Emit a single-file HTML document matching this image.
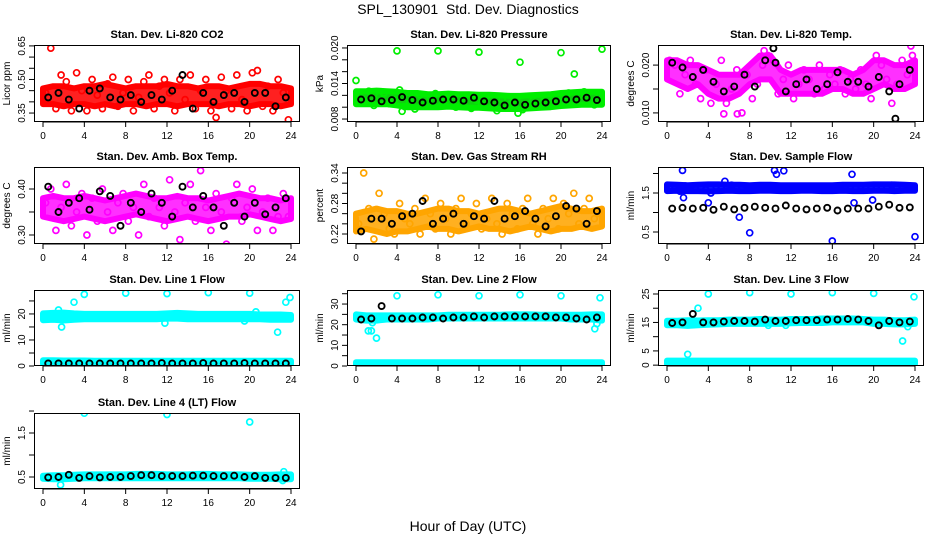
<!DOCTYPE html>
<html><head><meta charset="utf-8"><style>
html,body{margin:0;padding:0;background:#fff;}
svg{display:block;font-family:"Liberation Sans",Arial,sans-serif;}
.pt{font-weight:bold;font-size:11px;}
.tk{font-size:10px;}
</style></head><body>
<svg id="chart" width="936" height="540" viewBox="0 0 936 540" xmlns="http://www.w3.org/2000/svg">
<rect width="936" height="540" fill="#fff"/>
<text x="468" y="14" text-anchor="middle" font-size="14">SPL_130901&#160; Std. Dev. Diagnostics</text>
<text x="468" y="531" text-anchor="middle" font-size="14">Hour of Day (UTC)</text>
</svg>
<script>
const hours=[0,4,8,12,16,20,24];
// CO2
const co2Lo=[0.39,0.39,0.38,0.39,0.39,0.38,0.39,0.38,0.39,0.39,0.38,0.39,0.39,0.38,0.39,0.39,0.39,0.38,0.39,0.39,0.38,0.39,0.39,0.38,0.39];
const co2Hi=[0.46,0.47,0.47,0.46,0.47,0.47,0.48,0.47,0.46,0.47,0.47,0.47,0.48,0.47,0.47,0.46,0.47,0.47,0.46,0.47,0.48,0.48,0.47,0.47,0.46];
const co2Pts=[0.44,0.64,0.37,0.52,0.49,0.36,0.53,0.45,0.36,0.50,0.43,0.37,0.48,0.51,0.38,0.44,0.50,0.36,0.42,0.49,0.52,0.37,0.47,0.50,0.44,0.36,0.50,0.41,0.52,0.37,0.45,0.50,0.36,0.33,0.51,0.45,0.37,0.52,0.41,0.36,0.53,0.54,0.38,0.47,0.36,0.50,0.44,0.32];
const co2Blk=[0.42,0.44,0.41,0.37,0.45,0.46,0.42,0.41,0.43,0.40,0.43,0.41,0.45,0.52,0.37,0.44,0.40,0.43,0.44,0.40,0.44,0.44,0.38,0.42];
// Pressure
const prLo=[.0105,.0105,.0105,.0105,.0103,.0100,.0100,.0100,.0100,.0101,.0100,.0099,.0099,.0098,.0097,.0097,.0097,.0098,.0099,.0100,.0102,.0103,.0104,.0104,.0104];
const prHi=[.0127,.0127,.0128,.0127,.0126,.0124,.0124,.0122,.0122,.0123,.0122,.0122,.0121,.0121,.0120,.0119,.0119,.0120,.0121,.0122,.0124,.0125,.0126,.0126,.0126];
const prPts=[.0120,.0112,.0127,.0103,.0118,.0124,.0106,.0113,.0129,.0101,.0109,.0097,.0121,.0104,.0116,.0123,.0102,.0111,.0119,.0100,.0107,.0120,.0098,.0112,.0105,.0118,.0101,.0094,.0113,.0099,.0108,.0116,.0096,.0104,.0111,.0102,.0109,.0117,.0105,.0120,.0110,.0124,.0107,.0119,.0126,.0112,.0104,.0121];
const prOut=[[0,.0145],[4,.0195],[8,.0195],[12,.0193],[16,.0176],[20,.0192],[21.3,.0156],[24,.0198],[4.5,.0093],[15.8,.0090]];
const prBlk=[.0113,.0115,.0110,.0112,.0117,.0112,.0108,.0111,.0113,.0113,.0111,.0116,.0110,.0108,.0103,.0108,.0104,.0106,.0108,.0110,.0113,.0113,.0116,.0112];
// Li-820 temp
const ltLo=[.017,.016,.015,.016,.014,.013,.013,.014,.016,.017,.017,.014,.014,.014,.014,.014,.015,.015,.014,.014,.015,.016,.015,.015,.016];
const ltHi=[.021,.021,.020,.020,.019,.018,.018,.018,.020,.022,.022,.019,.018,.019,.019,.019,.019,.019,.018,.019,.021,.021,.020,.020,.021];
const ltPts=[.021,.020,.014,.018,.021,.016,.013,.019,.012,.016,.021,.012,.015,.019,.010,.018,.013,.016,.020,.022,.021,.014,.017,.020,.013,.016,.019,.017,.014,.020,.015,.018,.016,.019,.014,.017,.015,.019,.016,.013,.022,.020,.017,.012,.016,.021,.018,.022];
const ltOut=[[23.6,.024],[5.5,.0098],[6.8,.0098],[9.4,.0230]];
const ltBlk=[.0205,.0195,.0175,.019,.0165,.0145,.0155,.018,.0155,.021,.0205,.0145,.016,.017,.015,.016,.0185,.0165,.0165,.0155,.0175,.0145,.016,.019];
const ltBlkOut=[[10.3,.0235],[22.1,.0088]];
// Amb box temp
const btLo=[.34,.335,.33,.335,.34,.335,.33,.335,.34,.345,.34,.335,.33,.335,.34,.335,.33,.335,.34,.34,.345,.34,.335,.33,.335];
const btHi=[.38,.385,.38,.38,.385,.38,.375,.38,.385,.39,.385,.38,.38,.385,.38,.38,.375,.38,.385,.39,.385,.38,.38,.375,.38];
const btPts=[.37,.40,.31,.36,.41,.32,.35,.39,.30,.38,.33,.40,.35,.31,.37,.39,.33,.36,.30,.41,.34,.38,.36,.32,.42,.35,.29,.37,.41,.33,.44,.36,.31,.39,.35,.28,.38,.41,.33,.36,.40,.31,.35,.38,.31,.34,.39,.34];
const btBlk=[.405,.35,.37,.38,.355,.395,.385,.32,.37,.35,.39,.37,.34,.405,.36,.385,.36,.32,.37,.34,.37,.345,.36,.38];
// RH
const rhLo=[.225,.23,.225,.22,.225,.225,.23,.235,.23,.23,.225,.23,.235,.23,.23,.225,.23,.235,.23,.225,.23,.23,.235,.23,.235];
const rhHi=[.26,.265,.27,.265,.265,.26,.26,.265,.27,.27,.265,.265,.26,.265,.27,.27,.265,.26,.265,.27,.275,.27,.265,.265,.27];
const rhPts=[.24,.34,.27,.21,.30,.26,.23,.22,.28,.25,.24,.27,.22,.29,.26,.23,.28,.25,.22,.27,.29,.24,.26,.28,.23,.25,.29,.24,.22,.28,.26,.23,.27,.29,.24,.22,.27,.25,.29,.23,.28,.26,.30,.24,.27,.29,.25,.26];
const rhBlk=[.225,.25,.25,.24,.255,.26,.285,.24,.25,.26,.24,.255,.25,.285,.25,.255,.265,.25,.235,.255,.275,.27,.24,.265];
// Sample flow
const sfLo=[1.55,1.56,1.55,1.55,1.54,1.55,1.56,1.55,1.55,1.56,1.56,1.55,1.55,1.56,1.56,1.55,1.55,1.56,1.55,1.55,1.56,1.56,1.55,1.56,1.56];
const sfHi=[1.72,1.71,1.70,1.71,1.72,1.72,1.71,1.71,1.70,1.71,1.71,1.70,1.70,1.70,1.70,1.70,1.70,1.71,1.71,1.71,1.72,1.72,1.72,1.71,1.70];
const sfPts=[1.62,1.60,1.55,1.68,1.65,1.60,1.66,1.58,1.50,1.67,1.62,1.66,1.70,1.60,1.63,1.66,1.58,1.62,1.67,1.60,1.66,1.63,1.60,1.67,1.64,1.60,1.66,1.63,1.62,1.65,1.61,1.64,1.60,1.66,1.62,1.65,1.63,1.68,1.60,1.64,1.66,1.62,1.65,1.70,1.63,1.66,1.62,1.64];
const sfOut=[[1.5,2.08],[10.4,2.08],[10.6,1.98],[11.3,2.07],[8,0.48],[16,0.27],[24,0.38],[7,0.88],[17.9,1.98],[18.1,1.25],[4,1.25],[19.9,1.32],[5.6,1.80],[1.6,1.38]];
const sfBlk=[1.1,1.12,1.1,1.12,1.07,1.15,1.08,1.12,1.15,1.12,1.1,1.18,1.1,1.08,1.1,1.12,1.05,1.1,1.1,1.1,1.15,1.2,1.12,1.13];
// Line 1
const l1Lo=[17.6,17.8,17.5,17.8,18,18,18,18,18,18,18,18,18.2,18.2,18,18,18,18,18,18,18,18,17.8,17.8,17.8];
const l1Hi=[20.2,20.4,20.5,20.2,20,20,20,20,20,20,20,20,20.2,20.4,20.2,20,20,20,20,20,20,19.8,19.8,19.8,19.6];
const l1Lo2=[0.8,0.8,0.8,0.8,0.8,0.8,0.8,0.8,0.8,0.8,0.8,0.8,0.8,0.8,0.8,0.8,0.8,0.8,0.8,0.8,0.8,0.8,0.8,0.8,0.8];
const l1Hi2=[2.2,2.2,2.1,2.1,2.1,2.0,2.0,2.0,2.0,2.0,2.0,2.0,2.0,2.0,2.0,2.0,2.0,2.0,2.0,2.0,2.0,2.0,2.0,2.0,2.0];
const l1Out=[[1.5,21.5],[1.8,15],[3,24.5],[4,27.5],[8,28],[12,27.8],[16,28.2],[20,28],[11.8,16.5],[20.6,20.8],[22.7,13],[23.5,24.5],[23.9,26.3],[19.5,17.3]];
const l1Blk=[1,1,1,1,1,1,1,1,1,1,1,1.1,1,1,1,1.1,1,1,1,1.1,1,1,1,1];
// Line 2
const l2Lo=[22.5,22,22,22.5,22.5,22.5,22.5,22.5,23,23,23,23,23,23,23,23,23,23,23,23,23,22.5,22.5,22.5,22];
const l2Hi=[25,24.5,24.5,24.5,24.5,24.5,24.5,24.5,24.5,24.8,24.8,24.8,24.8,24.8,24.8,25,25,25,24.8,24.8,24.8,24.8,24.8,25,25];
const l2Lo2=[0.3,0.3,0.3,0.3,0.3,0.3,0.3,0.3,0.3,0.3,0.3,0.3,0.3,0.3,0.3,0.3,0.3,0.3,0.3,0.3,0.3,0.3,0.3,0.3,0.3];
const l2Hi2=[1.8,1.8,1.8,1.8,1.8,1.8,1.8,1.8,1.8,1.8,1.8,1.8,1.8,1.8,1.8,1.8,1.8,1.8,1.8,1.8,1.8,1.8,1.8,1.8,1.8];
const l2Out=[[1.2,17],[1.5,17],[1.6,21],[2,13.5],[4,34],[8,34.5],[12,34],[16,34.5],[20,34],[23.8,33],[23.3,18],[23.5,20.5]];
const l2Blk=[22.5,23,29,23,23,23,23.5,23.5,23,23.5,23.5,24,23.5,24,24,24,24,24,24,23.5,23.5,23,22.5,23.5];
// Line 3
const l3Lo=[14,14,13.8,14,14.2,14.3,14.5,14.5,14.5,14.5,14.5,14.5,14.7,14.8,14.8,14.8,15,15,15,15,14.5,14.5,14.3,14.3,14.5];
const l3Hi=[15.6,15.6,15.8,15.7,15.8,15.8,16,16,16,16.2,16,16,16.2,16.2,16.2,16.4,16.4,16.4,16.4,16.2,16,16,15.8,15.8,16];
const l3Lo2=[0.4,0.4,0.4,0.4,0.4,0.4,0.4,0.4,0.4,0.4,0.4,0.4,0.4,0.4,0.4,0.4,0.4,0.4,0.4,0.4,0.4,0.4,0.4,0.4,0.4];
const l3Hi2=[1.6,1.6,1.6,1.6,1.6,1.6,1.6,1.6,1.6,1.6,1.6,1.6,1.6,1.6,1.6,1.6,1.6,1.6,1.6,1.6,1.6,1.6,1.6,1.6,1.6];
const l3Out=[[2,3.8],[3,20],[4,25],[8,25.5],[12,25],[16,25.5],[20,25.2],[23.9,24],[22.8,8.5],[23.3,13.5],[9.8,14],[11.5,14]];
const l3Blk=[14.8,15,18,15,15,15.3,15.5,15.5,15.3,16,15.5,15.5,15.8,15.8,15.8,16,16,16.2,16,15.5,14,15.5,15,15.3];
// Line 4
const l4Lo=[0.46,0.45,0.45,0.46,0.47,0.47,0.47,0.47,0.47,0.47,0.47,0.47,0.47,0.47,0.47,0.47,0.47,0.47,0.47,0.47,0.46,0.46,0.46,0.45,0.45];
const l4Hi=[0.53,0.54,0.54,0.55,0.56,0.56,0.56,0.56,0.56,0.57,0.57,0.57,0.56,0.56,0.56,0.57,0.57,0.56,0.56,0.56,0.55,0.55,0.55,0.56,0.56];
const l4Out=[[4,1.95],[12,1.92],[20,1.75],[1.7,0.32],[23.3,0.62],[23.2,0.42]];
const l4Blk=[0.49,0.5,0.55,0.48,0.52,0.49,0.5,0.5,0.52,0.54,0.54,0.52,0.52,0.52,0.53,0.53,0.52,0.52,0.53,0.5,0.52,0.48,0.48,0.48];

const NS='http://www.w3.org/2000/svg';
const svg=document.getElementById('chart');
function mk(tag,attrs,parent){const e=document.createElementNS(NS,tag);for(const k in attrs)e.setAttribute(k,attrs[k]);(parent||svg).appendChild(e);return e;}

const cols=[[34,300],[347,611],[658,924]];
const rows=[[45,122],[167,244],[290,366],[413,489]];
const panels=[
{name:'co2',title:'Stan. Dev. Li-820 CO2',yl:'Licor ppm',c:0,r:0,ymin:0.310,ymax:0.654,ticks:[0.35,0.4,0.45,0.5,0.55,0.6,0.65],labs:['0.35','0.50','0.65'],color:'#ff0000',fill:'#ff2020',bands:[[co2Lo,co2Hi]],pts:co2Pts,out:[],blk:co2Blk,bout:[]},
{name:'pressure',title:'Stan. Dev. Li-820 Pressure',yl:'kPa',c:1,r:0,ymin:0.0075,ymax:0.0205,ticks:[0.008,0.010,0.012,0.014,0.016,0.018,0.020],labs:['0.008','0.014','0.020'],color:'#00ee00',fill:'#10d010',bands:[[prLo,prHi]],pts:prPts,out:prOut,blk:prBlk,bout:[]},
{name:'li820-temp',title:'Stan. Dev. Li-820 Temp.',yl:'degrees C',c:2,r:0,ymin:0.0081,ymax:0.0242,ticks:[0.010,0.015,0.020],labs:['0.010','0.020'],color:'#ff00ff',fill:'#ff30ff',bands:[[ltLo,ltHi]],pts:ltPts,out:ltOut,blk:ltBlk,bout:ltBlkOut},
{name:'box-temp',title:'Stan. Dev. Amb. Box Temp.',yl:'degrees C',c:0,r:1,ymin:0.2804,ymax:0.4478,ticks:[0.30,0.35,0.40],labs:['0.30','0.40'],color:'#ff00ff',fill:'#ff30ff',bands:[[btLo,btHi]],pts:btPts,out:[],blk:btBlk,bout:[]},
{name:'gas-rh',title:'Stan. Dev. Gas Stream RH',yl:'percent',c:1,r:1,ymin:0.2003,ymax:0.3518,ticks:[0.22,0.24,0.26,0.28,0.30,0.32,0.34],labs:['0.22','0.28','0.34'],color:'#ffa500',fill:'#ffb020',bands:[[rhLo,rhHi]],pts:rhPts,out:[],blk:rhBlk,bout:[]},
{name:'sample-flow',title:'Stan. Dev. Sample Flow',yl:'ml/min',c:2,r:1,ymin:0.192,ymax:2.167,ticks:[0.5,1.0,1.5,2.0],labs:['0.5','1.5'],color:'#0000ff',fill:'#1020ff',bands:[[sfLo,sfHi]],pts:sfPts,out:sfOut,blk:sfBlk,bout:[]},
{name:'line1-flow',title:'Stan. Dev. Line 1 Flow',yl:'ml/min',c:0,r:2,ymin:0,ymax:29.2,ticks:[0,5,10,15,20,25],labs:['0','10','20'],color:'#00ffff',fill:'#00ffff',bands:[[l1Lo,l1Hi],[l1Lo2,l1Hi2]],pts:[],out:l1Out,blk:l1Blk,bout:[]},
{name:'line2-flow',title:'Stan. Dev. Line 2 Flow',yl:'ml/min',c:1,r:2,ymin:0,ymax:36.8,ticks:[0,5,10,15,20,25,30,35],labs:['0','10','20','30'],color:'#00ffff',fill:'#00ffff',bands:[[l2Lo,l2Hi],[l2Lo2,l2Hi2]],pts:[],out:l2Out,blk:l2Blk,bout:[]},
{name:'line3-flow',title:'Stan. Dev. Line 3 Flow',yl:'ml/min',c:2,r:2,ymin:-0.3,ymax:26.4,ticks:[0,5,10,15,20,25],labs:['0','5','15','25'],color:'#00ffff',fill:'#00ffff',bands:[[l3Lo,l3Hi],[l3Lo2,l3Hi2]],pts:[],out:l3Out,blk:l3Blk,bout:[]},
{name:'line4-flow',title:'Stan. Dev. Line 4 (LT) Flow',yl:'ml/min',c:0,r:3,ymin:0.227,ymax:1.955,ticks:[0.5,1.0,1.5,2.0],labs:['0.5','1.5'],color:'#00ffff',fill:'#00ffff',bands:[[l4Lo,l4Hi]],pts:[],out:l4Out,blk:l4Blk,bout:[]}
];

panels.forEach(p=>{
  const [x0,x1]=cols[p.c],[y0,y1]=rows[p.r];
  const g=mk('g',{});
  
  
  const xs=h=>x0+9+h*(x1-x0-18)/24;
  const ys=v=>y1-(v-p.ymin)/(p.ymax-p.ymin)*(y1-y0);
  const clip=mk('clipPath',{id:'cl-'+p.name},g);
  mk('rect',{x:x0,y:y0,width:x1-x0,height:y1-y0},clip);
  const plot=mk('g',{'clip-path':'url(#cl-'+p.name+')'},g);
  p.bands.forEach(([lo,hi])=>{
    let d='';
    hi.forEach((v,i)=>{d+=(i?'L':'M')+xs(i).toFixed(1)+','+ys(v).toFixed(1);});
    for(let i=lo.length-1;i>=0;i--)d+='L'+xs(i).toFixed(1)+','+ys(lo[i]).toFixed(1);
    const b=mk('path',{d:d+'Z',fill:p.fill,stroke:p.color,'stroke-width':6,'stroke-linejoin':'round'},plot);
    
    
  });
  const circ=(h,v,col,w)=>{const c=mk('circle',{cx:xs(h).toFixed(1),cy:ys(v).toFixed(1),r:3,fill:'none',stroke:col,'stroke-width':w},plot);return c;};
  p.pts.forEach((v,i)=>{const c=circ(0.25+i*0.5,v,p.color,1.7);
    
    });
  p.out.forEach(([h,v])=>{const c=circ(h,v,p.color,1.7);
    
    });
  p.blk.forEach((v,i)=>{const c=circ(0.5+i,v,'#000',1.9);
    
    });
  p.bout.forEach(([h,v])=>{const c=circ(h,v,'#000',1.9);
    
    });
  const bx=mk('rect',{x:x0+0.5,y:y0+0.5,width:x1-x0-1,height:y1-y0-1,fill:'none',stroke:'#000','stroke-width':1},g);
  
  
  mk('line',{x1:xs(0),y1:y1,x2:xs(24),y2:y1,stroke:'#000'},g);
  hours.forEach(h=>{
    mk('line',{x1:xs(h),y1:y1,x2:xs(h),y2:y1+5,stroke:'#000'},g);
    const t=mk('text',{x:xs(h),y:y1+17,'text-anchor':'middle',class:'tk'},g);
    t.textContent=h;
    
    
  });
  p.ticks.forEach(v=>{const yy=ys(v);if(yy<y0-3||yy>y1+1)return;mk('line',{x1:x0-5,y1:yy,x2:x0,y2:yy,stroke:'#000'},g);});
  p.labs.forEach(l=>{
    const yy=ys(parseFloat(l));
    const t=mk('text',{x:x0-9,y:yy,'text-anchor':'middle',class:'tk',transform:'rotate(-90 '+(x0-9)+' '+yy+')'},g);
    t.textContent=l;
    
    
  });
  const yt=mk('text',{x:x0-24,y:(y0+y1)/2,'text-anchor':'middle',class:'tk',transform:'rotate(-90 '+(x0-24)+' '+((y0+y1)/2)+')'},g);
  yt.textContent=p.yl;
  
  
  const tt=mk('text',{x:(x0+x1)/2,y:y0-7,'text-anchor':'middle',class:'pt'},g);
  tt.textContent=p.title;
  
  
});
</script>
</body></html>
